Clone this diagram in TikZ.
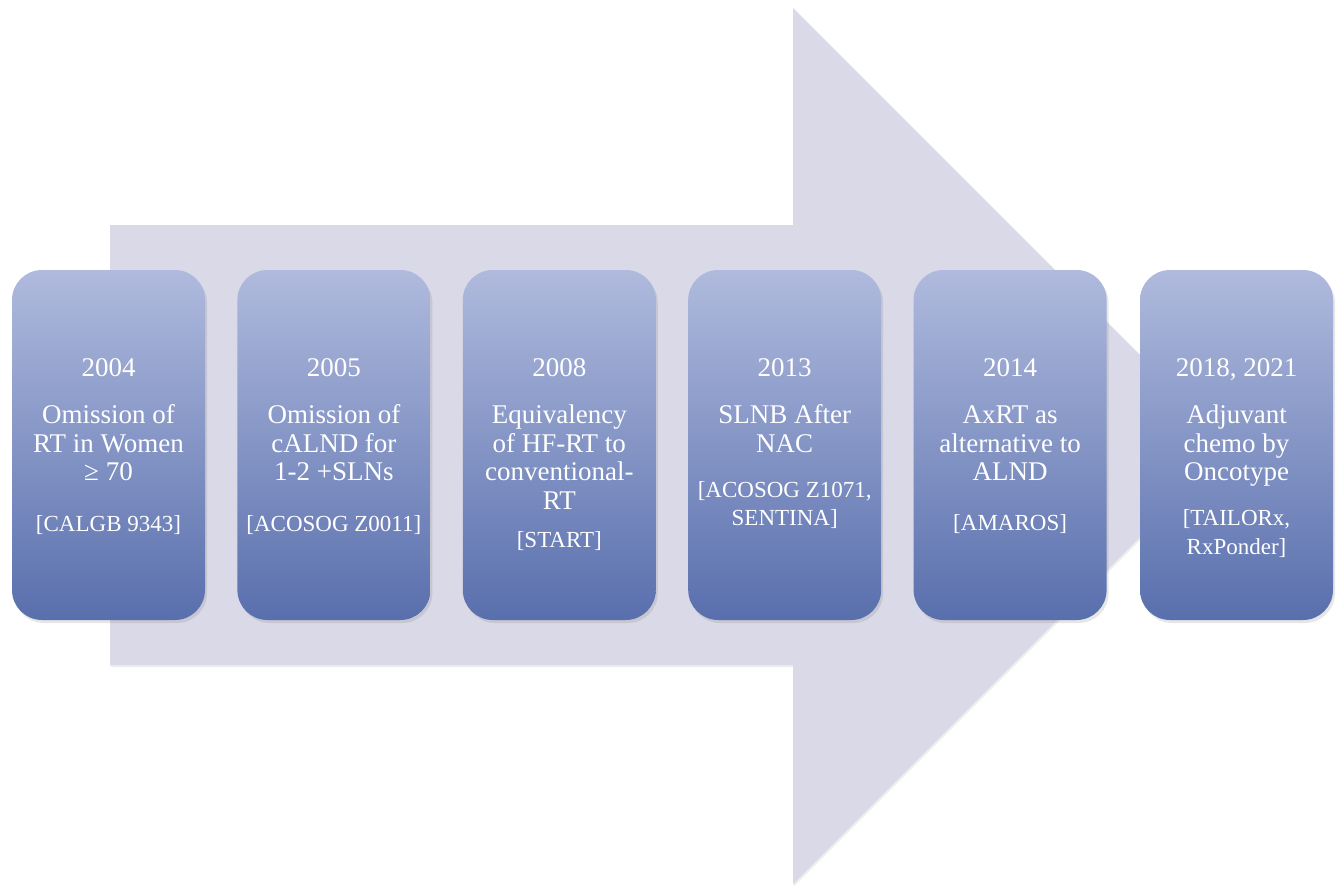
\documentclass[tikz,border=0pt]{standalone}
\usepackage{fontspec}
\setmainfont{Liberation Serif}
\usepackage{tikz}
\usetikzlibrary{positioning}
\usetikzlibrary{shadows}

\definecolor{arrowgray}{RGB}{217,217,231}
\definecolor{boxtop}{RGB}{175,186,221}
\definecolor{boxbot}{RGB}{89,111,173}

\tikzset{
  stage/.style={rounded corners=30pt, minimum width=193pt, minimum height=350pt,
    inner sep=0pt, top color=boxtop, bottom color=boxbot,
    drop shadow={opacity=0.2, shadow xshift=2pt, shadow yshift=-3pt}},
  stagetext/.style={text=white, align=center, inner sep=0pt,
    font=\fontsize{27}{28.5}\selectfont},
}
\newcommand{\trial}[1]{{\fontsize{23}{29}\selectfont #1}}

\begin{document}
\begin{tikzpicture}[x=1pt, y=-1pt, node distance=32pt]
      \useasboundingbox (0,0) rectangle (1341,886);
      % Big arrow in the back
      \fill[arrowgray, drop shadow={opacity=0.15, shadow xshift=1pt, shadow yshift=-2pt}]
        (110,225) -- (793,225) -- (793,8) -- (1231,446) -- (793,884)
        -- (793,665) -- (110,665) -- cycle;
      % Define nodes
      \node[stage] (y04) at (108.5,445) {};
      \node[stage, right=of y04] (y05) {};
      \node[stage, right=of y05] (y08) {};
      \node[stage, right=of y08] (y13) {};
      \node[stage, right=of y13] (y14) {};
      \node[stage, right=33pt of y14] (y18) {};
      % Texts
      \node[stagetext, below=89pt of y04.north] (t04)
        {2004\\[18.5pt]Omission of\\RT in Women\\≥ 70\\[22.5pt]\trial{[CALGB 9343]}};
      \node[stagetext, below=89pt of y05.north] (t05)
        {2005\\[18.5pt]Omission of\\cALND for\\1-2 +SLNs\\[22.5pt]\trial{[ACOSOG Z0011]}};
      \node[stagetext, below=89pt of y08.north] (t08)
        {2008\\[18.5pt]Equivalency\\of HF-RT to\\conventional-\\RT\\[9.5pt]\trial{[START]}};
      \node[stagetext, below=89pt of y13.north] (t13)
        {2013\\[18.5pt]SLNB After\\NAC\\[16.5pt]\trial{[ACOSOG Z1071,}\\\trial{SENTINA]}};
      \node[stagetext, below=89pt of y14.north] (t14)
        {2014\\[18.5pt]AxRT as\\alternative to\\ALND\\[21.5pt]\trial{[AMAROS]}};
      \node[stagetext, below=89pt of y18.north] (t18)
        {2018, 2021\\[18.5pt]Adjuvant\\chemo by\\Oncotype\\[16.5pt]\trial{[TAILORx,}\\\trial{RxPonder]}};
\end{tikzpicture}
\end{document}
